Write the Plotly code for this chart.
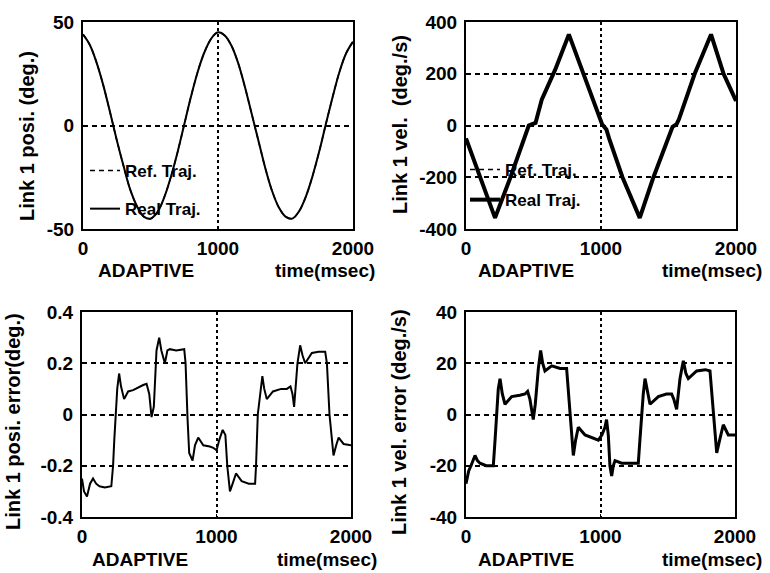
import plotly.graph_objects as go

# ---- Link 1 position (deg.) ----
pos_time = [0, 50, 100, 150, 200, 250, 300, 350, 400, 450, 500, 550, 600, 650, 700,
            750, 800, 850, 900, 950, 1000, 1050, 1100, 1150, 1200, 1250, 1300, 1350,
            1400, 1450, 1500, 1550, 1600, 1650, 1700, 1750, 1800, 1850, 1900, 1950, 2000]
pos_ref = [44, 39, 30.5, 19.5, 6.5, -7, -19.5, -31, -39, -44, -45, -42, -35, -25, -13,
           0.5, 14, 26, 35.5, 42, 45, 43.5, 38.5, 30, 18.5, 5.5, -7.5, -20.5, -31.5,
           -39.5, -44, -45, -41.5, -34.5, -24.5, -12.5, 1, 14, 26, 35, 40.5]
pos_real = [44, 39, 30.5, 19.5, 6.5, -7, -19.5, -31, -39, -44, -45, -42, -35, -25, -13,
            0.5, 14, 26, 35.5, 42, 45, 43.5, 38.5, 30, 18.5, 5.5, -7.5, -20.5, -31.5,
            -39.5, -44, -45, -41.5, -34.5, -24.5, -12.5, 1, 14, 26, 35, 40.5]

# ---- Link 1 velocity (deg./s) ----
vel_time = [0, 215, 326, 420, 465, 490, 515, 561, 660, 762, 875, 940, 1008, 1040, 1060,
            1159, 1287, 1385, 1500, 1530, 1560, 1578, 1694, 1815, 1908, 2000]
vel_ref = [-50, -357, -205, -60, 0, 5, 10, 100, 215, 352, 195, 100, 5, -15, -50,
           -200, -357, -205, -40, -5, 5, 25, 200, 352, 200, 95]
vel_real = [-50, -357, -205, -60, 0, 5, 10, 100, 215, 352, 195, 100, 5, -15, -50,
            -200, -357, -205, -40, -5, 5, 25, 200, 352, 200, 95]

# ---- Link 1 position error (deg.) ----
perr_time = [0, 15, 37, 60, 82, 105, 130, 170, 218, 231, 240, 251, 262, 276, 290, 313,
             343, 380, 430, 455, 480, 500, 517, 534, 545, 554, 574, 590, 616, 635, 653,
             700, 760, 770, 785, 797, 822, 840, 864, 902, 950, 976, 1001, 1020, 1046,
             1066, 1080, 1100, 1120, 1145, 1187, 1240, 1287, 1294, 1307, 1325, 1341,
             1355, 1374, 1420, 1480, 1523, 1550, 1565, 1577, 1602, 1622, 1640, 1659,
             1709, 1760, 1808, 1821, 1840, 1870, 1890, 1908, 1945, 2000]
perr_val = [-0.25, -0.30, -0.32, -0.27, -0.25, -0.27, -0.28, -0.285, -0.28, -0.20,
            -0.10, 0.02, 0.10, 0.16, 0.11, 0.06, 0.09, 0.095, 0.11, 0.115, 0.12, 0.08,
            -0.01, 0.03, 0.15, 0.25, 0.30, 0.25, 0.20, 0.25, 0.255, 0.25, 0.255, 0.20,
            -0.02, -0.15, -0.18, -0.12, -0.09, -0.12, -0.125, -0.13, -0.14, -0.10,
            -0.06, -0.08, -0.20, -0.30, -0.27, -0.23, -0.26, -0.27, -0.27, -0.20, 0.0,
            0.08, 0.15, 0.10, 0.06, 0.09, 0.10, 0.10, 0.11, 0.08, 0.03, 0.20, 0.27,
            0.23, 0.20, 0.24, 0.245, 0.245, 0.20, 0.0, -0.16, -0.12, -0.09, -0.115, -0.12]

# ---- Link 1 velocity error (deg./s) ----
verr_time = [0, 20, 37, 67, 85, 104, 150, 203, 216, 228, 240, 253, 270, 290, 340, 400,
             439, 458, 475, 500, 515, 538, 555, 570, 587, 637, 700, 748, 760, 773, 798,
             815, 835, 885, 940, 984, 1010, 1033, 1045, 1058, 1070, 1083, 1095, 1108,
             1157, 1220, 1281, 1293, 1306, 1318, 1331, 1350, 1368, 1430, 1490, 1529,
             1545, 1566, 1580, 1591, 1605, 1616, 1635, 1653, 1715, 1780, 1814, 1826,
             1839, 1864, 1890, 1913, 1950, 2000]
verr_val = [-27, -22, -20, -16, -18, -19, -20, -20, -10, 0, 10, 14, 8, 4, 7, 7.5, 8, 9,
            6, -2, 4, 18, 25, 20, 17, 19, 18, 18, 10, 0, -16, -10, -5, -8, -9, -10, -8,
            -5, -2, -8, -20, -24, -20, -18, -19, -19, -19, -10, 0, 8, 14, 8, 4, 7, 8, 8,
            6, 2, 10, 14, 18, 21, 16, 14, 17, 17.5, 17, 10, 0, -15, -9, -4, -8, -8]

x_ticks = [0, 1000, 2000]
x_range = [0, 2000]
panel_titles = ["Link 1 posi. (deg.)", "Link 1 vel.  (deg./s)",
                "Link 1 posi. error(deg.)", "Link 1 vel. error (deg./s)"]
y_ticks = [[-50, 0, 50], [-400, -200, 0, 200, 400],
           [-0.4, -0.2, 0, 0.2, 0.4], [-40, -20, 0, 20, 40]]
y_tick_text = [["-50", "0", "50"], ["-400", "-200", "0", "200", "400"],
               ["-0.4", "-0.2", "0", "0.2", "0.4"], ["-40", "-20", "0", "20", "40"]]
y_ranges = [[-50, 50], [-400, 400], [-0.4, 0.4], [-40, 40]]
legend_names = ["Ref. Traj.", "Real Traj."]

W, H = 770, 573
# plot frames in pixels: (left, right, top, bottom)
frames = [(83, 353, 22, 229), (466, 736, 22, 229),
          (82, 351, 312, 517), (466, 735, 312, 517)]

BLACK = "#000000"
TICK_FONT = dict(family="Liberation Sans, Arial", size=19, color=BLACK, weight="bold")
TEXT_FONT = dict(family="Liberation Sans, Arial", size=19, color=BLACK)

fig = go.Figure()

# top-left: position
fig.add_trace(go.Scatter(x=pos_time, y=pos_ref, mode="lines", name=legend_names[0],
                         line=dict(color=BLACK, width=1.5, dash="5px,4px", shape="spline"),
                         xaxis="x", yaxis="y", legend="legend", legendgroup="a1"))
fig.add_trace(go.Scatter(x=pos_time, y=pos_real, mode="lines", name=legend_names[1],
                         line=dict(color=BLACK, width=2, shape="spline"),
                         xaxis="x", yaxis="y", legend="legend", legendgroup="b1"))
# top-right: velocity
fig.add_trace(go.Scatter(x=vel_time, y=vel_ref, mode="lines", name=legend_names[0],
                         line=dict(color=BLACK, width=1.5, dash="5px,4px"),
                         xaxis="x2", yaxis="y2", legend="legend2", legendgroup="a2"))
fig.add_trace(go.Scatter(x=vel_time, y=vel_real, mode="lines", name=legend_names[1],
                         line=dict(color=BLACK, width=4),
                         xaxis="x2", yaxis="y2", legend="legend2", legendgroup="b2"))
# bottom-left: position error
fig.add_trace(go.Scatter(x=perr_time, y=perr_val, mode="lines", showlegend=False,
                         line=dict(color=BLACK, width=2),
                         xaxis="x3", yaxis="y3"))
# bottom-right: velocity error
fig.add_trace(go.Scatter(x=verr_time, y=verr_val, mode="lines", showlegend=False,
                         line=dict(color=BLACK, width=3),
                         xaxis="x4", yaxis="y4"))

layout = dict(template="none", width=W, height=H, autosize=False,
              margin=dict(l=0, r=0, t=0, b=0, pad=0),
              paper_bgcolor="white", plot_bgcolor="white", showlegend=True)

for i, (l, r, t, b) in enumerate(frames):
    sfx = "" if i == 0 else str(i + 1)
    layout["xaxis" + sfx] = dict(
        domain=[l / W, r / W], range=x_range, tickvals=x_ticks,
        ticktext=[str(v) for v in x_ticks], anchor="y" + sfx, automargin=False,
        showline=True, linecolor=BLACK, linewidth=2, mirror=True,
        ticks="inside", ticklen=3, tickcolor=BLACK, tickwidth=1,
        showgrid=True, gridcolor=BLACK, gridwidth=2, griddash="3px,3px",
        zeroline=False, tickfont=TICK_FONT, ticklabelstandoff=1)
    layout["yaxis" + sfx] = dict(
        domain=[1 - b / H, 1 - t / H], range=y_ranges[i], tickvals=y_ticks[i],
        ticktext=y_tick_text[i], anchor="x" + sfx, automargin=False,
        showline=True, linecolor=BLACK, linewidth=2, mirror=True,
        ticks="inside", ticklen=3, tickcolor=BLACK, tickwidth=1,
        showgrid=True, gridcolor=BLACK, gridwidth=1.5, griddash="5px,4px",
        zeroline=False, tickfont=TICK_FONT, ticklabelstandoff=3)

annotations = []
label_x = [27, 400, 13, 399]
label_y = [136, 124, 422, 422]
adaptive_x = [146, 526, 140, 526]
time_x = [325, 712, 327, 712]
caption_y = [271, 271, 559, 559]
for i in range(4):
    annotations.append(dict(text="<b>" + panel_titles[i] + "</b>", textangle=-90,
                            x=label_x[i] / W, y=1 - label_y[i] / H, xref="paper",
                            yref="paper", showarrow=False, font=dict(TEXT_FONT, size=20),
                            xanchor="center", yanchor="middle"))
    annotations.append(dict(text="<b>ADAPTIVE</b>", x=adaptive_x[i] / W,
                            y=1 - caption_y[i] / H, xref="paper", yref="paper",
                            showarrow=False, font=TEXT_FONT,
                            xanchor="center", yanchor="middle"))
    annotations.append(dict(text="<b>time(msec)</b>", x=time_x[i] / W,
                            y=1 - caption_y[i] / H, xref="paper", yref="paper",
                            showarrow=False, font=TEXT_FONT,
                            xanchor="center", yanchor="middle"))
layout["annotations"] = annotations

legend_font = dict(family="Liberation Sans, Arial", size=17, color=BLACK, weight="bold")
layout["legend"] = dict(x=85 / W, y=1 - 153 / H, xanchor="left", yanchor="top",
                        bgcolor="rgba(0,0,0,0)", borderwidth=0, font=legend_font,
                        traceorder="grouped", tracegroupgap=13, itemwidth=30)
layout["legend2"] = dict(x=465 / W, y=1 - 152 / H, xanchor="left", yanchor="top",
                         bgcolor="rgba(0,0,0,0)", borderwidth=0, font=legend_font,
                         traceorder="grouped", tracegroupgap=5, itemwidth=30)

fig.update_layout(**layout)
fig.write_html("out.html")
